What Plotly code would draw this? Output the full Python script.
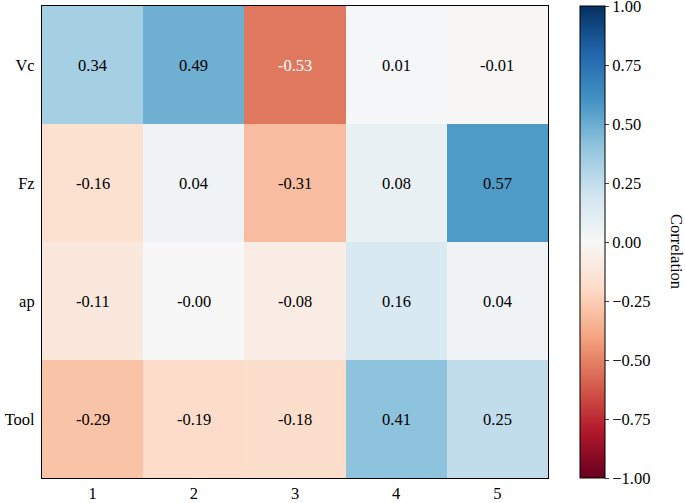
import plotly.graph_objects as go

# correlation of each factor with components 1..5
factors = ["Vc", "Fz", "ap", "Tool"]
components = ["1", "2", "3", "4", "5"]
vc_corr = [0.34, 0.49, -0.53, 0.01, -0.01]
fz_corr = [-0.16, 0.04, -0.31, 0.08, 0.57]
ap_corr = [-0.11, -0.0, -0.08, 0.16, 0.04]
tool_corr = [-0.29, -0.19, -0.18, 0.41, 0.25]
cbar_ticks = [-1.0, -0.75, -0.5, -0.25, 0.0, 0.25, 0.5, 0.75, 1.0]

z = [vc_corr, fz_corr, ap_corr, tool_corr]

# matplotlib RdBu
rdbu = ["#67001f", "#b2182b", "#d6604d", "#f4a582", "#fddbc7", "#f7f7f7",
        "#d1e5f0", "#92c5de", "#4393c3", "#2166ac", "#053061"]
colorscale = [[i / (len(rdbu) - 1), c] for i, c in enumerate(rdbu)]

font = "Liberation Serif, Times New Roman, serif"
fsize = 16.5

fig = go.Figure(
    go.Heatmap(
        z=z,
        x=components,
        y=factors,
        zmin=-1,
        zmax=1,
        colorscale=colorscale,
        colorbar=dict(
            xref="container",
            x=580 / 685,
            xanchor="left",
            xpad=0,
            y=0.5,
            ypad=0,
            len=1,
            lenmode="fraction",
            thickness=25,
            outlinewidth=1,
            outlinecolor="black",
            ticks="outside",
            ticklen=4,
            tickvals=cbar_ticks,
            tickformat=".2f",
            ticklabeloverflow="allow",
            tickfont=dict(size=fsize, family=font, color="black"),
        ),
    )
)

for r, row in enumerate(z):
    for c, v in enumerate(row):
        fig.add_annotation(
            x=c,
            y=r,
            text=f"{v:.2f}",
            showarrow=False,
            font=dict(size=fsize, family=font, color="white" if v < -0.5 else "black"),
        )

# colorbar label, rotated to read top-to-bottom like matplotlib
fig.add_annotation(
    xref="paper", yref="paper",
    x=(676 - 42) / 506, y=0.481,
    xanchor="center", yanchor="middle",
    text="Correlation", textangle=90,
    showarrow=False,
    font=dict(size=fsize, family=font, color="black"),
)

fig.update_xaxes(
    showline=True, linecolor="black", linewidth=1, mirror=True,
    ticks="", showgrid=False, zeroline=False, ticklabelstandoff=0,
    tickfont=dict(size=fsize, family=font, color="black"),
)
fig.update_yaxes(
    autorange="reversed",
    showline=True, linecolor="black", linewidth=1, mirror=True,
    ticks="", showgrid=False, zeroline=False, ticklabelstandoff=3,
    tickfont=dict(size=fsize, family=font, color="black"),
)
fig.update_layout(
    width=685,
    height=503,
    margin=dict(l=42, r=137, t=6, b=25, autoexpand=False),
    plot_bgcolor="white",
    paper_bgcolor="white",
    font=dict(family=font, color="black"),
)
fig.write_html(
    "out.html",
    config={"displayModeBar": False},
    post_script="document.body.style.margin='0';",
)
